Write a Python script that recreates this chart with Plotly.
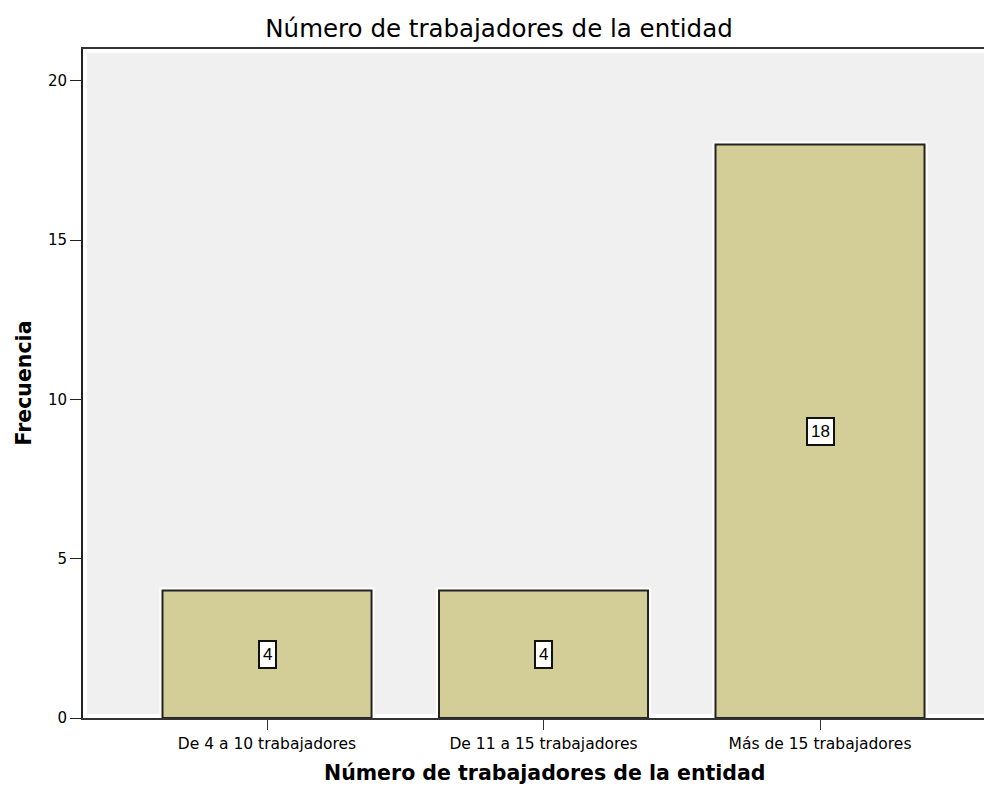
import plotly.graph_objects as go

# Data
categorias = ["De 4 a 10 trabajadores", "De 11 a 15 trabajadores", "Más de 15 trabajadores"]
frecuencias = [4, 4, 18]
y_ticks = [0, 5, 10, 15, 20]

bar_color = "#d3ce97"

fig = go.Figure()

# white halo behind the bars
fig.add_trace(go.Bar(x=categorias, y=frecuencias, width=0.756,
                     marker=dict(color=bar_color, line=dict(color="white", width=6)),
                     hoverinfo="skip", showlegend=False))
# the bars themselves
fig.add_trace(go.Bar(x=categorias, y=frecuencias, width=0.756,
                     marker=dict(color=bar_color, line=dict(color="#222222", width=2)),
                     showlegend=False))

# value labels in the middle of each bar
for cat, val in zip(categorias, frecuencias):
    fig.add_annotation(x=cat, y=val / 2, text=str(val), showarrow=False,
                       font=dict(family="Liberation Sans", size=17, color="black"),
                       bgcolor="white", bordercolor="#111111", borderwidth=2, borderpad=3)

# axis titles
fig.add_annotation(text="<b>Número de trabajadores de la entidad</b>", x=0.508, y=0,
                   xref="paper", yref="paper", yanchor="middle", yshift=-55, showarrow=False,
                   font=dict(family="DejaVu Sans", size=20.5, color="black"))
fig.add_annotation(text="<b>Frecuencia</b>", x=0, y=0.5, xref="paper", yref="paper",
                   textangle=-90, showarrow=False, xanchor="center", xshift=-60,
                   font=dict(family="DejaVu Sans", size=20.5, color="black"))

# thin white band inside the frame
fig.add_shape(type="rect", xref="paper", yref="paper", x0=0, x1=1, y0=0, y1=1,
              line=dict(color="white", width=8), layer="below")

fig.update_layout(
    width=984, height=783,
    margin=dict(l=75, r=0, t=41, b=73),
    paper_bgcolor="white",
    plot_bgcolor="#f0f0f0",
    barmode="overlay",
    title=dict(text="Número de trabajadores de la entidad", x=0.499, xanchor="center",
               y=1 - 20 / 783, yanchor="middle",
               font=dict(family="DejaVu Sans", size=24.5, color="black")),
    font=dict(family="DejaVu Sans", size=15, color="black"),
)

fig.update_xaxes(range=[-0.6655, 2.622], showline=True, linecolor="#333333", linewidth=2,
                 mirror=True, ticks="outside", ticklen=10, tickcolor="#333333",
                 showgrid=False, tickfont=dict(family="DejaVu Sans", size=15.5))
fig.update_yaxes(range=[0, 21.0], tickvals=y_ticks, showline=True, linecolor="#222222", linewidth=2,
                 ticks="outside", ticklen=11, tickcolor="#222222", showgrid=False, zeroline=False,
                 tickfont=dict(family="DejaVu Sans", size=15))

fig.write_html("out.html")
